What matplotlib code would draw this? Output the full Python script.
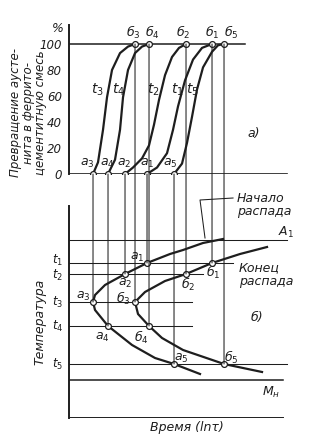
import matplotlib.pyplot as plt
from matplotlib.patches import ConnectionPatch

# ---------------------------------------------------------------------------
# Данные (время в условных единицах, температура в условных единицах)
# ---------------------------------------------------------------------------

# кинетические кривые превращения при t1..t5 (время, % превращения)
kin_t1_x = [78, 88, 98, 104, 109, 116, 124, 133, 143]
kin_t1_y = [0, 5, 16, 34, 52, 72, 88, 97, 100]
kin_t2_x = [56, 64, 73, 80, 85, 90, 96, 103, 110, 117]
kin_t2_y = [0, 5, 12, 22, 38, 57, 76, 90, 97, 100]
kin_t3_x = [24, 29, 34, 38, 43, 51, 59, 66]
kin_t3_y = [0, 9, 34, 59, 80, 93, 98, 100]
kin_t4_x = [39, 46, 51, 54, 59, 66, 73, 80]
kin_t4_y = [0, 11, 34, 59, 80, 93, 98, 100]
kin_t5_x = [105, 113, 118, 123, 128, 134, 143, 149, 155]
kin_t5_y = [0, 8, 24, 44, 65, 82, 94, 99, 100]

# точки начала (а) и конца (б) распада для t1..t5
a_time = [78, 56, 24, 39, 105]
b_time = [143, 117, 66, 80, 155]
t_levels = [155, 144, 116, 92, 54]
t_names = ["$t_1$", "$t_2$", "$t_3$", "$t_4$", "$t_5$"]
a_names = ["$a_1$", "$a_2$", "$a_3$", "$a_4$", "$a_5$"]
b_names = [r"$\mathit{б}_1$", r"$\mathit{б}_2$", r"$\mathit{б}_3$",
           r"$\mathit{б}_4$", r"$\mathit{б}_5$"]

A1 = 178
Mn = 38

# С-кривые
start_x = [154, 134, 114, 101, 78, 56, 36, 26, 24, 26, 39, 63, 86, 105, 131]
start_T = [179, 175, 168, 164, 155, 144, 133, 123, 116, 108, 92, 73, 60, 54, 44]
end_x = [198, 171, 143, 117, 96, 76, 66, 69, 80, 93, 114, 155, 193]
end_T = [171, 164, 155, 144, 137, 126, 116, 104, 92, 80, 68, 54, 46]

# выноска «Начало распада»
lead_x = [164, 131, 136]
lead_T = [220, 218, 180]

ink = "#1e1e1e"
thin = 0.75
thick = 1.6
fs = 9

fig = plt.figure(figsize=(3.12, 4.37), dpi=100)
ax1 = fig.add_axes([0.2212, 0.6018, 0.7372, 0.3410])
ax2 = fig.add_axes([0.2212, 0.0435, 0.7372, 0.4851])

for ax in (ax1, ax2):
    ax.set_xlim(0, 230)
    for s in ("top", "right", "bottom"):
        ax.spines[s].set_visible(False)
    ax.spines["left"].set_linewidth(1.4)
    ax.spines["left"].set_color(ink)
    ax.set_xticks([])
    ax.patch.set_alpha(0)

# ---------------------------------------------------------------------------
# а) кинетические кривые
# ---------------------------------------------------------------------------
ax1.set_ylim(0, 114.6)
ax1.set_yticks([0, 20, 40, 60, 80, 100])
ax1.set_yticklabels(["0", "20", "40", "60", "80", "100"], fontsize=8.5, style="italic")
ax1.tick_params(axis="y", length=0, pad=5, colors=ink)
ax1.plot([0, 218], [0, 0], color=ink, lw=1.2)
ax1.plot([0, 176], [100, 100], color=ink, lw=1.1)

kin = [(kin_t1_x, kin_t1_y), (kin_t2_x, kin_t2_y), (kin_t3_x, kin_t3_y),
       (kin_t4_x, kin_t4_y), (kin_t5_x, kin_t5_y)]
for kx, ky in kin:
    ax1.plot(kx, ky, color=ink, lw=thick, solid_joinstyle="round")

lab_x = [108, 84, 28.5, 49, 123]
for i in range(5):
    ax1.text(lab_x[i], 64.6, t_names[i], fontsize=fs + 1, ha="center", va="center", color=ink)

a_lab_dx = [0, -1, -6, -1, -4]
b_lab_dx = [0, -3, -2, 3, 7]
for i in range(5):
    ax1.text(a_time[i] + a_lab_dx[i], 8.5, a_names[i], fontsize=fs, ha="center", va="center", color=ink)
    ax1.text(b_time[i] + b_lab_dx[i], 108.5, b_names[i], fontsize=fs, ha="center", va="center", color=ink)

ax1.plot(a_time, [0] * 5, "o", ms=4.2, mfc="white", mec=ink, mew=0.9, zorder=5)
ax1.plot(b_time, [100] * 5, "o", ms=4.2, mfc="white", mec=ink, mew=0.9, zorder=5)

ax1.text(-5, 112, "%", fontsize=fs, style="italic", ha="right", va="center", color=ink)
ax1.text(185, 31.5, "а)", fontsize=fs, style="italic", ha="center", va="center", color=ink)
ax1.text(-41, 47, "Превращение аусте-\nнита в феррито-\nцементитную смесь",
         rotation=90, fontsize=8.5, style="italic", ha="center", va="center",
         linespacing=0.95, color=ink)

# ---------------------------------------------------------------------------
# б) диаграмма изотермического распада
# ---------------------------------------------------------------------------
ax2.set_ylim(0, 212)
ax2.set_yticks([])
ax2.plot([0, 214], [0, 0], color=ink, lw=1.4)
ax2.plot([0, 218], [A1, A1], color=ink, lw=thin)
ax2.plot([0, 214], [Mn, Mn], color=ink, lw=1.1)
t_line_end = [164, 134, 123, 123, 218]
t_lab_dy = [2.5, -1.5, 0, 0, 0]
for i in range(5):
    ax2.plot([0, t_line_end[i]], [t_levels[i], t_levels[i]], color=ink, lw=thin)
    ax2.text(-11, t_levels[i] + t_lab_dy[i], t_names[i], fontsize=8.5, ha="center", va="center", color=ink)

ax2.plot(start_x, start_T, color=ink, lw=thick, solid_joinstyle="round")
ax2.plot(end_x, end_T, color=ink, lw=thick, solid_joinstyle="round")
ax2.plot(lead_x, lead_T, color=ink, lw=thin, clip_on=False)

ax2.plot(a_time, t_levels, "o", ms=4.2, mfc="white", mec=ink, mew=0.9, zorder=5)
ax2.plot(b_time, t_levels, "o", ms=4.2, mfc="white", mec=ink, mew=0.9, zorder=5)

a_lab = [(68, 161), (56, 135), (14, 122), (33, 81), (112, 60)]
b_lab = [(144, 146), (119, 134), (54, 120), (72, 81), (162, 61)]
for i in range(5):
    ax2.text(a_lab[i][0], a_lab[i][1], a_names[i], fontsize=fs, ha="center", va="center", color=ink)
    ax2.text(b_lab[i][0], b_lab[i][1], b_names[i], fontsize=fs, ha="center", va="center", color=ink)

# вертикальные связи между а) и б)
for i in range(5):
    for xt, yt in ((a_time[i], 0), (b_time[i], 100)):
        con = ConnectionPatch(xyA=(xt, yt), coordsA=ax1.transData,
                              xyB=(xt, t_levels[i]), coordsB=ax2.transData,
                              color=ink, lw=thin, zorder=1)
        fig.add_artist(con)

ax2.text(217, 186, "$A_1$", fontsize=fs, ha="center", va="center", color=ink)
ax2.text(202, 26, r"$M_{\mathit{н}}$", fontsize=fs, ha="center", va="center", color=ink)
ax2.text(168, 213, "Начало\nраспада", fontsize=fs, style="italic", ha="left",
         va="center", linespacing=1.05, color=ink, clip_on=False)
ax2.text(170, 143, "Конец\nраспада", fontsize=fs, style="italic", ha="left",
         va="center", linespacing=1.05, color=ink)
ax2.text(188, 100, "б)", fontsize=fs, style="italic", ha="center", va="center", color=ink)
ax2.text(118, -10, "Время (lnτ)", fontsize=fs, style="italic", ha="center",
         va="center", color=ink, clip_on=False)
ax2.text(-29, 96, "Температура", rotation=90, fontsize=fs, style="italic",
         ha="center", va="center", color=ink)

fig.savefig("out.png", dpi=100, facecolor="white")
